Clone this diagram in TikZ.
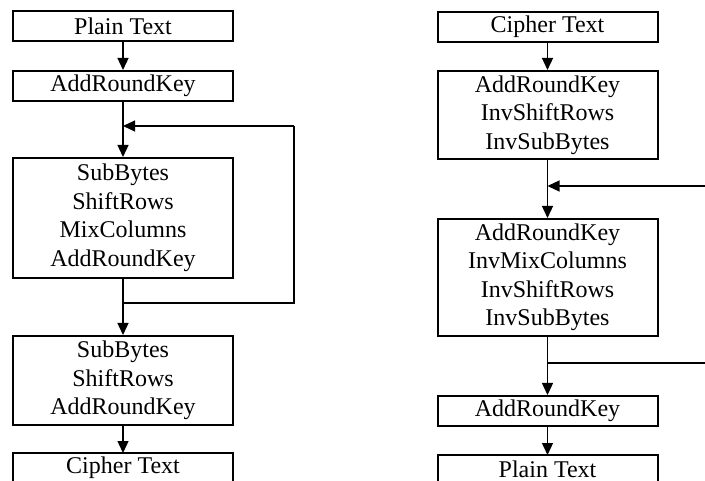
\documentclass[tikz,border=0pt]{standalone}
\usepackage{fontspec}
\setmainfont{Liberation Serif}
\usetikzlibrary{arrows.meta}
\tikzset{
  blk/.style={draw, line width=2pt, minimum width=220pt, inner sep=0pt, align=center, anchor=north, font=\fontsize{24}{28.5}\selectfont},
  txt/.style={inner sep=0pt, font=\fontsize{24}{28.5}\selectfont},
  edge/.style={line width=2pt},
  flow/.style={line width=1.3pt, -{Triangle[width=11pt,length=12pt]}},
  fb/.style={line width=1.2pt},
}
\begin{document}
\begin{tikzpicture}[x=1pt,y=-1pt]
\useasboundingbox (0,0) rectangle (705,481);
\clip (0,0) rectangle (705,481);
% left column
\node[blk, minimum height=30pt] (lp) at (123,10.5) {Plain Text};
\node[blk, minimum height=30pt] (la) at (123,70) {AddRoundKey};
\node[blk, minimum height=120pt] (lr) at (123,157) {SubBytes\\ShiftRows\\MixColumns\\AddRoundKey};
\node[blk, minimum height=89pt] (lf) at (123,335) {SubBytes\\ShiftRows\\AddRoundKey};
% cut-off box at the bottom
\coordinate (lcTL) at (13,453);
\coordinate (lcTR) at (233,453);
\coordinate (lcT) at (123,453);
\draw[edge] (13,490) -- (lcTL) -- (lcTR) -- (233,490);
\node[txt] (lc) at (123,468) {Cipher Text};
\coordinate (lin) at (123,126);
\coordinate (lout) at (123,303);
\coordinate (lc1) at (294,303);
\coordinate (lc2) at (294,126);
\draw[flow] (lp.south) -- (la.north);
\draw[flow] (la.south) -- (lr.north);
\draw[fb] (lout) -- (lc1) -- (lc2);
\draw[fb, -{Triangle[width=11pt,length=12pt]}] (lc2) -- (lin);
\draw[flow] (lr.south) -- (lf.north);
\draw[flow] (lf.south) -- (lcT);
% right column
\node[blk, minimum height=30pt] (rc) at (547.5,11) {Cipher Text};
\node[blk, minimum height=88pt] (r1) at (547.5,70) {AddRoundKey\\InvShiftRows\\InvSubBytes};
\node[blk, minimum height=117pt] (r2) at (547.5,218) {AddRoundKey\\InvMixColumns\\InvShiftRows\\InvSubBytes};
\node[blk, minimum height=29.5pt] (r3) at (547.5,395) {AddRoundKey};
\coordinate (rpTL) at (437.5,455);
\coordinate (rpTR) at (657.5,455);
\coordinate (rpT) at (547.5,455);
\draw[edge] (437.5,490) -- (rpTL) -- (rpTR) -- (657.5,490);
\node[txt] (rp) at (547.5,469) {Plain Text};
\coordinate (rin) at (547.5,186);
\coordinate (rinR) at (712,186);
\coordinate (rout) at (547.5,363);
\coordinate (routR) at (712,363);
\draw[flow] (rc.south) -- (r1.north);
\draw[flow] (r1.south) -- (r2.north);
\draw[fb, -{Triangle[width=11pt,length=12pt]}] (rinR) -- (rin);
\draw[flow] (r2.south) -- (r3.north);
\draw[fb] (rout) -- (routR);
\draw[flow] (r3.south) -- (rpT);
\end{tikzpicture}
\end{document}
